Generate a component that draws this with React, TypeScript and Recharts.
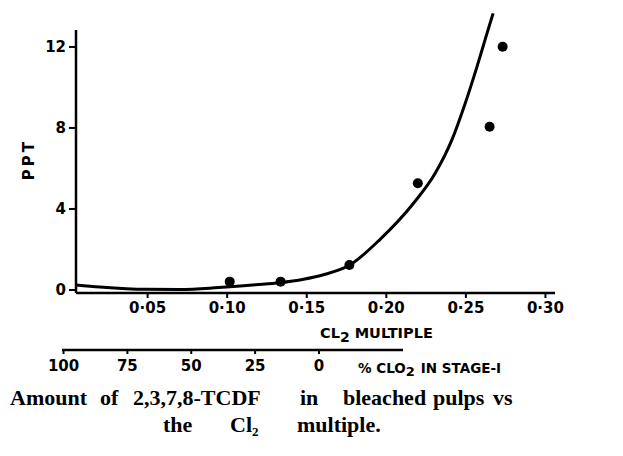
import React from 'react';
import {
    ComposedChart, Line, Scatter, XAxis, YAxis, ReferenceLine, Label
} from 'recharts';

// fitted curve
const curveX = [0.005, 0.02, 0.049, 0.07, 0.089, 0.1016, 0.118, 0.133, 0.148, 0.16, 0.177, 0.1961, 0.2171, 0.2307, 0.2412, 0.2496, 0.257, 0.2633, 0.2671];
const curveY = [0.25, 0.15, 0.03, 0.02, 0.08, 0.16, 0.26, 0.36, 0.53, 0.74, 1.23, 2.5, 4.28, 5.76, 7.41, 9.22, 11.03, 12.68, 13.66];

// measured points
const pointX = [0.1016, 0.1336, 0.1768, 0.2198, 0.2649, 0.2731];
const pointY = [0.41, 0.41, 1.23, 5.27, 8.06, 12.01];

const cl2Ticks = [0.05, 0.1, 0.15, 0.2, 0.25, 0.3];
const ppTicks = [0, 4, 8, 12];
const clo2Ticks = [100, 75, 50, 25, 0];

const curve = curveX.map((x, i) => ({ x, y: curveY[i] }));
const points = pointX.map((x, i) => ({ x, y: pointY[i] }));

const FONT = '"DejaVu Sans", sans-serif';
const tickStyle = { fill: '#000', fontSize: 15, fontWeight: 700, fontFamily: FONT };

const Dot = (p: any) => <circle cx={p.cx} cy={p.cy} r={5} fill="#000" />;

export default function App() {
    return (
        <div style={{ position: 'absolute', left: 0, top: 0, width: 623, height: 456, background: '#fff' }}>
            <div style={{ position: 'absolute', left: 0, top: 0 }}>
                <ComposedChart width={623} height={456} margin={{ top: 10.5, right: 68, bottom: 133, left: 0 }}>
                    <XAxis type="number" dataKey="x" domain={[0.005, 0.306]} ticks={cl2Ticks}
                        allowDataOverflow
                        tickFormatter={(v: number) => v.toFixed(2).replace('.', '·')}
                        tick={tickStyle} tickSize={5} tickMargin={4} height={30}
                        axisLine={{ stroke: '#000', strokeWidth: 2.5 }} tickLine={{ stroke: '#000', strokeWidth: 2 }}>
                        <Label content={({ viewBox }: any) => (
                            <text x={viewBox.x + 244} y={viewBox.y + 45} fontFamily={FONT} fontWeight={700} fontSize={14.5}>
                                CL<tspan fontSize={14} dy={4}>2</tspan><tspan dy={-4}> MULTIPLE</tspan>
                            </text>
                        )} />
                    </XAxis>
                    <YAxis type="number" dataKey="y" domain={[-0.15, 13.8]} ticks={ppTicks} allowDataOverflow
                        width={76} tick={tickStyle} tickSize={7} tickMargin={3}
                        axisLine={false} tickLine={{ stroke: '#000', strokeWidth: 2 }}>
                        <Label content={({ viewBox }: any) => (
                            <text x={viewBox.x + 34} y={viewBox.y + 149} transform={`rotate(-90 ${viewBox.x + 34} ${viewBox.y + 149})`}
                                textAnchor="middle" fontFamily={FONT} fontWeight={700} fontSize={15} letterSpacing={3}>
                                PPT
                            </text>
                        )} />
                    </YAxis>
                    <ReferenceLine segment={[{ x: 0.005, y: -0.15 }, { x: 0.005, y: 12.84 }]}
                        stroke="#000" strokeWidth={2.5} ifOverflow="visible" />
                    <Line data={curve} dataKey="y" type="monotone" stroke="#000" strokeWidth={3}
                        dot={false} isAnimationActive={false} />
                    <Scatter data={points} dataKey="y" shape={Dot} isAnimationActive={false} />
                </ComposedChart>
            </div>
            <div style={{ position: 'absolute', left: 0, top: 0 }}>
                <ComposedChart width={623} height={456} data={clo2Ticks.map(p => ({ p }))}
                    margin={{ top: 0, right: 220, bottom: 76, left: 62 }}>
                    <XAxis type="number" dataKey="p" domain={[-32.9, 100.6]} reversed ticks={clo2Ticks}
                        allowDataOverflow tick={tickStyle} tickSize={4} tickMargin={6} height={30}
                        axisLine={{ stroke: '#000', strokeWidth: 2.5 }} tickLine={{ stroke: '#000', strokeWidth: 2 }}>
                        <Label content={({ viewBox }: any) => (
                            <text x={viewBox.x + 296} y={viewBox.y + 23} fontFamily={FONT} fontWeight={700} fontSize={13.5}>
                                % CLO<tspan fontSize={13} dy={3}>2</tspan><tspan dy={-3} dx={6}>IN STAGE-I</tspan>
                            </text>
                        )} />
                    </XAxis>
                    <YAxis hide />
                </ComposedChart>
            </div>
            <svg width={623} height={456} style={{ position: 'absolute', left: 0, top: 0, pointerEvents: 'none' }}>
                <g fontFamily='"Liberation Serif", serif' fontWeight={700} fontSize={22} fill="#000">
                    <text y={405}>
                        <tspan x={10}>Amount</tspan>
                        <tspan x={100}>of</tspan>
                        <tspan x={133}>2,3,7,8-TCDF</tspan>
                        <tspan x={300}>in</tspan>
                        <tspan x={343}>bleached</tspan>
                        <tspan x={433}>pulps</tspan>
                        <tspan x={493}>vs</tspan>
                    </text>
                    <text y={432}>
                        <tspan x={163}>the</tspan>
                        <tspan x={230}>Cl</tspan>
                        <tspan fontSize={13} dy={4}>2</tspan>
                        <tspan x={297} dy={-4}>multiple.</tspan>
                    </text>
                </g>
            </svg>
        </div>
    );
}
